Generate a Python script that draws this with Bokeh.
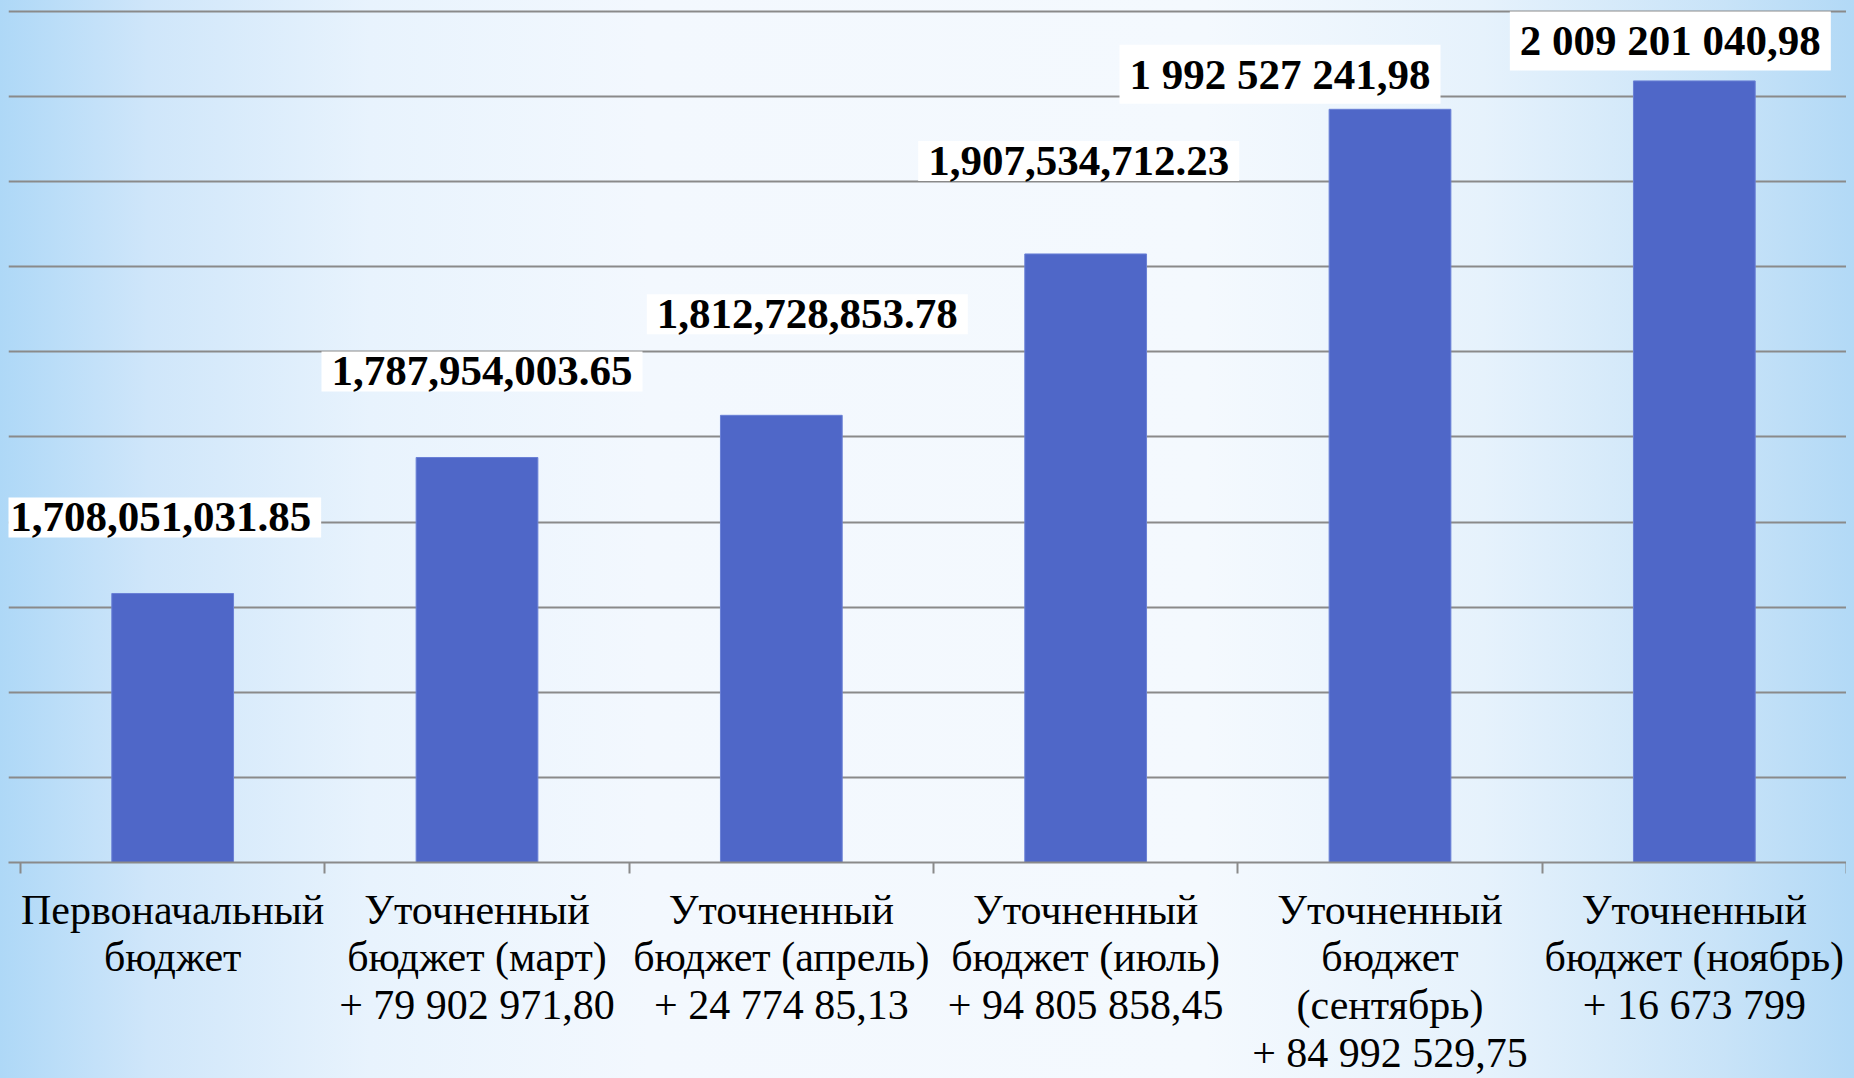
from bokeh.plotting import figure
from bokeh.models import Range1d, FixedTicker, Label
from bokeh.embed import file_html
from bokeh.resources import INLINE

# ---- data ----
categories = [
    "Первоначальный\nбюджет",
    "Уточненный\nбюджет (март)\n+ 79 902 971,80",
    "Уточненный\nбюджет (апрель)\n+ 24 774 85,13",
    "Уточненный\nбюджет (июль)\n+ 94 805 858,45",
    "Уточненный\nбюджет\n(сентябрь)\n+ 84 992 529,75",
    "Уточненный\nбюджет (ноябрь)\n+ 16 673 799",
]
values = [1708051031.85, 1787954003.65, 1812728853.78, 1907534712.23, 1992527241.98, 2009201040.98]
value_labels = [
    "1,708,051,031.85",
    "1,787,954,003.65",
    "1,812,728,853.78",
    "1,907,534,712.23",
    "1 992 527 241,98",
    "2 009 201 040,98",
]
y_ticks = [1550e6, 1600e6, 1650e6, 1700e6, 1750e6, 1800e6, 1850e6, 1900e6, 1950e6, 2000e6, 2050e6]

# ---- layout / style ----
label_dx = [-12, 5, 26, -7, -110, -24]      # px offsets of the value boxes
label_dy = [76, 86, 101, 93, 35, 40]        # px above bar top
BAR_COLOR = "#4f67c8"
GRID_COLOR = "#8a8a8a"

n = len(categories)
centers = [i + 0.5 for i in range(n)]
edges = [float(i) for i in range(n + 1)]
span = y_ticks[-1] - y_ticks[0]
x_start = -n * 12 / 1826          # leaves 12px of frame left of the first category

p = figure(width=1838, height=1086, output_backend="svg", toolbar_location=None,
           x_range=Range1d(x_start, n), y_range=Range1d(y_ticks[0], y_ticks[-1] + 0.0035 * span),
           min_border_left=0, min_border_right=0, min_border_top=0, min_border_bottom=232)
p.background_fill_color = None
p.border_fill_color = None
p.outline_line_color = None

p.vbar(x=centers, top=values, bottom=y_ticks[0], width=0.4,
       fill_color=BAR_COLOR, line_color="#6a80d6", line_width=1)

p.xgrid.visible = False
p.ygrid.ticker = FixedTicker(ticks=y_ticks)
p.ygrid.grid_line_color = GRID_COLOR
p.ygrid.grid_line_width = 2
p.yaxis.visible = False

xa = p.xaxis[0]
xa.ticker = FixedTicker(ticks=centers, minor_ticks=edges)
xa.major_label_overrides = {c: lab for c, lab in zip(centers, categories)}
xa.major_tick_line_color = None
xa.minor_tick_line_color = GRID_COLOR
xa.minor_tick_line_width = 2
xa.minor_tick_in = 0
xa.minor_tick_out = 11
xa.axis_line_color = GRID_COLOR
xa.axis_line_width = 2
xa.major_label_standoff = 13
xa.major_label_text_font = "Liberation Serif"
xa.major_label_text_font_size = "42px"
xa.major_label_text_color = "#000000"
xa.major_label_text_line_height = 1.04

for c, v, t, dx, dy in zip(centers, values, value_labels, label_dx, label_dy):
    p.add_layout(Label(x=c, y=v, x_units="data", y_units="data", text=t,
                       x_offset=dx, y_offset=dy,
                       text_align="center", text_baseline="middle",
                       text_font="Liberation Serif", text_font_style="bold",
                       text_font_size="43px", text_color="#000000",
                       background_fill_color="white", background_fill_alpha=1.0,
                       padding=(10, 6)))

html = file_html(p, INLINE)
bg = ("html,body{margin:0;padding:0;overflow:hidden;}"
      "body{margin:8px;background:linear-gradient(90deg,#aed8f7 0%,#cfe6fa 8%,#e8f3fd 20%,"
      "#f3f8fe 35%,#f4f9fe 65%,#e6f2fc 80%,#c8e3f8 93%,#b2d9f6 100%) !important;"
      "background-attachment:fixed !important;}")
html = html.replace("</head>", "<style>%s</style></head>" % bg, 1)
open("out.html", "w").write(html)
